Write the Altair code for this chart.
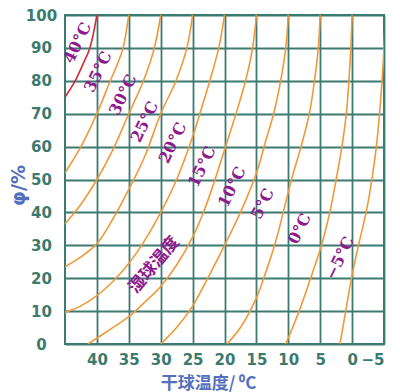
import altair as alt
import pandas as pd

# Wet-bulb curves: dry-bulb temperature (T, °C) vs relative humidity (phi, %)
TW = [40, 35, 30, 25, 20, 15, 10, 5, 0, -5]

T_40 = [46.0, 45.0, 43.4, 42.2, 41.1, 40.0]
P_40 = [72, 75, 80, 85, 90, 100]

T_35 = [46.0, 45.0, 42.5, 40.0, 37.9, 36.8, 35.9, 35.0]
P_35 = [49, 52, 60, 70, 80, 85, 90, 100]

T_30 = [46.0, 45.0, 42.5, 40.0, 37.5, 35.0, 32.7, 31.0, 30.0]
P_30 = [34, 36.5, 42.5, 50, 59, 70, 80, 90, 100]

T_25 = [46.0, 45.0, 42.5, 40.0, 37.5, 35.0, 32.5, 30.0, 27.6, 25.9, 25.0]
P_25 = [22.5, 23.5, 26.5, 30.5, 38, 47, 57, 70, 80, 90, 100]

T_20 = [46.0, 45.0, 42.5, 40.0, 37.5, 35.0, 32.5, 30.0, 27.5, 25.0, 23.7, 22.3, 20.9, 20.0]
P_20 = [9, 9.6, 11.6, 14.7, 19, 24.5, 31.5, 40, 50, 63, 71, 80, 90, 100]

T_15 = [41.4, 37.5, 35.0, 32.5, 30.0, 27.5, 25.0, 23.4, 22.0, 20.0, 18.2, 16.7, 15.6, 15.0]
P_15 = [0, 5, 8.3, 12.7, 17.5, 24, 32.5, 39.5, 47, 59, 70, 80, 90, 100]

T_10 = [30.0, 27.5, 25.0, 22.5, 20.0, 17.5, 15.0, 13.5, 12.3, 11.2, 10.4, 10.0]
P_10 = [0, 5, 11.5, 20.5, 30, 40, 52, 62, 70, 80, 90, 100]

T_5 = [19.6, 17.5, 15.0, 13.5, 12.0, 10.8, 9.5, 8.0, 6.7, 5.9, 5.3, 5.0]
P_5 = [0, 5, 14, 22, 31, 40, 50, 60, 70, 80, 90, 100]

T_0 = [10.4, 8.3, 6.5, 4.8, 3.5, 2.5, 1.6, 0.9, 0.5, 0.2, 0.0]
P_0 = [0, 10, 20, 30, 40, 50, 60, 70, 80, 90, 100]

T_M5 = [1.9, 1.0, 0.1, -1.0, -2.2, -3.1, -3.8, -4.3, -4.7, -5.0, -5.2]
P_M5 = [0, 10, 20, 30, 40, 50, 60, 70, 80, 90, 100]

CURVE_T = [T_40, T_35, T_30, T_25, T_20, T_15, T_10, T_5, T_0, T_M5]
CURVE_P = [P_40, P_35, P_30, P_25, P_20, P_15, P_10, P_5, P_0, P_M5]

# Curve labels and their positions (dry-bulb, humidity)
LABELS = ["40°C", "35°C", "30°C", "25°C", "20°C", "15°C", "10°C", "5°C", "0°C", "−5°C"]
LABEL_T = [43.0, 39.8, 35.9, 32.5, 28.1, 23.5, 18.8, 14.0, 8.2, 1.9]
LABEL_P = [91.5, 82.7, 75.7, 67.5, 61.1, 53.8, 47.7, 42.6, 35.0, 26.1]

WB_TEXT = ["湿球温度"]
WB_T = [31.0]
WB_P = [24.0]

X_TICKS = [40, 35, 30, 25, 20, 15, 10, 5, 0, -5]
Y_TICKS = [0, 10, 20, 30, 40, 50, 60, 70, 80, 90, 100]

rows = []
for tw, ts, ps in zip(TW, CURVE_T, CURVE_P):
    for i, (t, p) in enumerate(zip(ts, ps)):
        rows.append({"tw": tw, "T": t, "phi": p, "idx": i,
                     "kind": "hot" if tw == 40 else "normal"})
curves = pd.DataFrame(rows)
labels = pd.DataFrame({"label": LABELS, "T": LABEL_T, "phi": LABEL_P})
wb = pd.DataFrame({"label": WB_TEXT, "T": WB_T, "phi": WB_P})

GRID = "#3d7a72"
TICK_COLOR = "#3c7a6e"
TITLE_COLOR = "#5470bd"
LABEL_COLOR = "#8e1b8c"

xscale = alt.Scale(domain=[-5, 45], reverse=True, nice=False, zero=False)
yscale = alt.Scale(domain=[0, 100], nice=False, zero=False)

xaxis = alt.Axis(values=X_TICKS, title="干球温度/ ⁰C", grid=True, ticks=False, tickSize=0,
                 domain=False, labelPadding=8, labelFontSize=15, labelFont="DejaVu Sans",
                 labelFontWeight="bold", labelColor=TICK_COLOR, labelOverlap=False,
                 titleFont="Noto Sans CJK SC", titleFontSize=17, titleFontWeight="bold",
                 titleColor=TITLE_COLOR, titleX=143, titleY=39, titleBaseline="middle",
                 titleAlign="center")
yaxis = alt.Axis(values=Y_TICKS, title="φ/%", grid=True, ticks=False, tickSize=0,
                 domain=False, labelPadding=24, labelAlign="center", labelFontSize=15,
                 labelFont="DejaVu Sans",
                 labelFontWeight="bold", labelColor=TICK_COLOR, labelOverlap=False,
                 titleFont="DejaVu Sans", titleFontSize=19, titleFontWeight="bold",
                 titleColor=TITLE_COLOR, titleX=-47, titleY=170, titleBaseline="middle",
                 titleAlign="center", titleAngle=270)

lines = alt.Chart(curves).mark_line(clip=True, interpolate="catmull-rom", strokeWidth=1.6).encode(
    x=alt.X("T:Q", scale=xscale, axis=xaxis),
    y=alt.Y("phi:Q", scale=yscale, axis=yaxis),
    detail="tw:N",
    order="idx:Q",
    color=alt.Color("kind:N", scale=alt.Scale(domain=["hot", "normal"],
                                              range=["#d32a3e", "#f0993a"]), legend=None),
)

text = alt.Chart(labels).mark_text(angle=296, align="center", baseline="middle",
                                   font="DejaVu Serif", fontSize=16, fontWeight="bold",
                                   color=LABEL_COLOR).encode(
    x=alt.X("T:Q", scale=xscale, axis=xaxis),
    y=alt.Y("phi:Q", scale=yscale, axis=yaxis),
    text="label:N",
)

wbtext = alt.Chart(wb).mark_text(angle=310, align="center", baseline="middle",
                                 font="Noto Sans CJK SC", fontSize=17, fontWeight="bold",
                                 color=LABEL_COLOR).encode(
    x=alt.X("T:Q", scale=xscale, axis=xaxis),
    y=alt.Y("phi:Q", scale=yscale, axis=yaxis),
    text="label:N",
)

chart = alt.layer(lines, text, wbtext).properties(
    width=319, height=329,
    autosize=alt.AutoSizeParams(type="none"),
    padding={"left": 57, "top": 7, "right": 8, "bottom": 48},
).configure_view(stroke=GRID, strokeWidth=2).configure_axis(
    gridColor=GRID, gridWidth=1.8, gridOpacity=1, labelOverlap=False
)

chart.save("out.html", embed_options={"renderer": "svg", "actions": False})
